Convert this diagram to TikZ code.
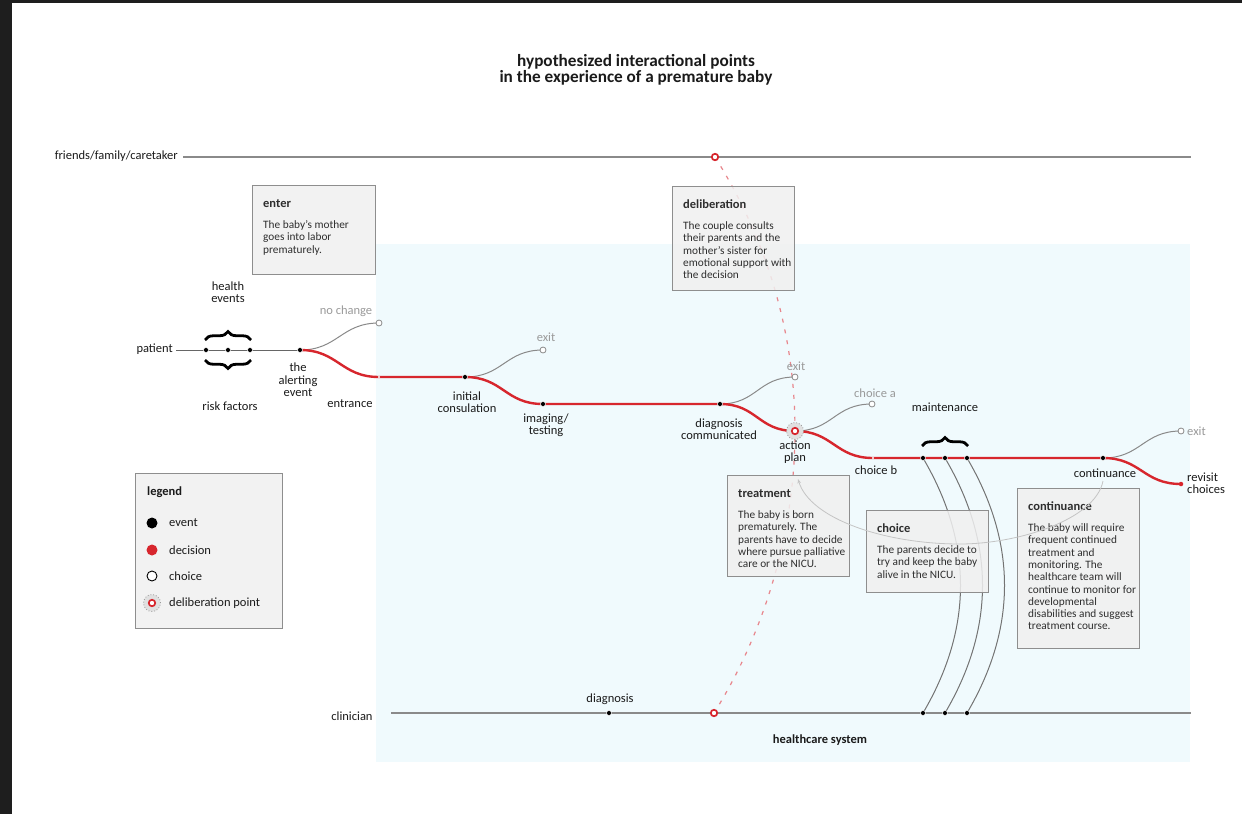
\documentclass[tikz,border=0pt]{standalone}
\usepackage{fontspec}
\setmainfont{Carlito}
\usetikzlibrary{decorations.pathreplacing,arrows.meta}
\definecolor{framec}{HTML}{1E1E1E}
\definecolor{sky}{HTML}{F0FAFD}
\definecolor{axisc}{HTML}{8A8A8A}
\definecolor{redc}{HTML}{D7262D}
\definecolor{pinkc}{HTML}{E8868C}
\definecolor{boxfill}{HTML}{F0F0F0}
\definecolor{boxline}{HTML}{8E8E8E}
\definecolor{txt}{HTML}{1A1A1A}
\definecolor{gtxt}{HTML}{9A9A9A}
\definecolor{faintc}{HTML}{C4C4C4}
\newcommand{\bxttl}[1]{{\fontsize{12.5}{12.4}\selectfont\bfseries\rule{0pt}{9pt}#1}}
\begin{document}
\begin{tikzpicture}[x=1pt,y=-1pt,
  lab/.style={font=\fontsize{12.5}{12.5}\selectfont, align=center, inner sep=0pt, text=txt},
  glab/.style={lab, text=gtxt},
  axisline/.style={draw=axisc, line width=1.8pt},
  ptline/.style={draw=black!60, line width=0.9pt},
  redline/.style={draw=redc, line width=2.4pt},
  branch/.style={draw=axisc, line width=1pt},
  arcline/.style={draw=black!55, line width=1pt},
  delib/.style={draw=pinkc, line width=1.2pt, dash pattern=on 4pt off 7pt},
  faintline/.style={draw=faintc, line width=0.8pt},
  evt/.style={circle, fill=black, draw=white, line width=0.5pt, inner sep=0pt, minimum size=5pt},
  chc/.style={circle, fill=white, draw=axisc, line width=0.8pt, inner sep=0pt, minimum size=6pt},
  gapdot/.style={circle, fill=white, inner sep=0pt, minimum size=2.4pt},
  ring/.style={circle, fill=white, draw=redc, line width=1.7pt, inner sep=0pt, minimum size=6.5pt},
  halo/.style={circle, fill=black!12, draw=black!40, dotted, line width=0.8pt, inner sep=0pt, minimum size=17pt},
  box/.style={rectangle, draw=boxline, fill=boxfill, fill opacity=0.85, line width=1.3pt, inner sep=0pt, anchor=north west},
  btext/.style={font=\fontsize{11.3}{12.3}\selectfont, align=left, inner sep=0pt, anchor=north west, text=black!82},
  bracedec/.style={decorate, decoration={brace, amplitude=8.5pt}, line width=2.8pt, draw=black}
]
\useasboundingbox (0,0) rectangle (1242,814);
\fill[white] (0,0) rectangle (1242,814);
\fill[framec] (0,0) rectangle (1242,3);
\fill[framec] (0,0) rectangle (12,814);
\fill[sky] (376,244) rectangle (1190,762);

% title
\node[lab, font=\fontsize{17.2}{16.5}\selectfont\bfseries] (title) at (636,70) {hypothesized interactional points\\in the experience of a premature baby};

% coordinates
\coordinate (ffS) at (183,157); \coordinate (ffE) at (1191,157);
\coordinate (clS) at (391,713); \coordinate (clE) at (1191,713);
\coordinate (pS) at (176,350);
\coordinate (h1) at (206,350); \coordinate (h2) at (228,350); \coordinate (h3) at (250,350);
\coordinate (ae) at (300,350);
\coordinate (nc) at (379,323);
\coordinate (ent) at (379,377);
\coordinate (ic) at (465,377);
\coordinate (ex1) at (543,350);
\coordinate (img) at (543,404);
\coordinate (dc) at (720,404);
\coordinate (ex2) at (795,377);
\coordinate (ap) at (795,431);
\coordinate (ca) at (872,404);
\coordinate (cb) at (873,458);
\coordinate (m1) at (923,458); \coordinate (m2) at (945,458); \coordinate (m3) at (967,458);
\coordinate (ct) at (1103,458);
\coordinate (ex3) at (1181,431);
\coordinate (rv) at (1181,484);
\coordinate (dtop) at (715,157);
\coordinate (dbot) at (714,713);
\coordinate (dg) at (609,713);
\coordinate (c1) at (923,713); \coordinate (c2) at (945,713); \coordinate (c3) at (967,713);
\coordinate (rcs) at (1103,481); \coordinate (rcm) at (960,544); \coordinate (rce) at (798,479);

% axes
\draw[axisline] (ffS) -- (ffE);
\draw[axisline] (clS) -- (clE);
\draw[ptline] (pS) -- (ae);

% deliberation dashed curve
\draw[delib] (dtop) .. controls +(52,83) and +(0,-98) .. (ap) .. controls +(0,98) and +(52,-83) .. (dbot);

% maintenance arcs
\draw[arcline] (m1) .. controls +(50,85) and +(50,-85) .. (c1);
\draw[arcline] (m2) .. controls +(50,85) and +(50,-85) .. (c2);
\draw[arcline] (m3) .. controls +(50,85) and +(50,-85) .. (c3);

% grey branches
\draw[branch] (ae) .. controls +(38,0) and +(-38,0) .. (nc);
\draw[branch] (ic) .. controls +(38,0) and +(-38,0) .. (ex1);
\draw[branch] (dc) .. controls +(37,0) and +(-37,0) .. (ex2);
\draw[branch] (ap) .. controls +(38,0) and +(-38,0) .. (ca);
\draw[branch] (ct) .. controls +(38,0) and +(-38,0) .. (ex3);

% red decision path
\draw[redline] (ae) .. controls +(38,0) and +(-38,0) .. (ent) -- (ic)
  .. controls +(38,0) and +(-38,0) .. (img) -- (dc)
  .. controls +(37,0) and +(-37,0) .. (ap)
  .. controls +(38,0) and +(-38,0) .. (cb) -- (ct)
  .. controls +(38,0) and +(-38,0) .. (rv);

% boxes
\node[box, minimum width=123, minimum height=89] (bEnter) at (252,185) {};
\node[btext] (tEnter) at (263,198) {\bxttl{enter}\\[9pt]The baby’s mother\\goes into labor\\prematurely.};
\node[box, minimum width=122, minimum height=104] (bDelib) at (672,186) {};
\node[btext] (tDelib) at (683,199) {\bxttl{deliberation}\\[9pt]The couple consults\\their parents and the\\mother’s sister for\\emotional support with\\the decision};
\node[box, minimum width=122, minimum height=101] (bTreat) at (727,475) {};
\node[btext] (tTreat) at (738,488) {\bxttl{treatment}\\[9pt]The baby is born\\prematurely. The\\parents have to decide\\where pursue palliative\\care or the NICU.};
\node[box, minimum width=122, minimum height=82] (bChoice) at (866,510) {};
\node[btext] (tChoice) at (877,523) {\bxttl{choice}\\[9pt]The parents decide to\\try and keep the baby\\alive in the NICU.};
\node[box, minimum width=122, minimum height=160] (bCont) at (1017,488) {};
\node[btext] (tCont) at (1028,501) {\bxttl{continuance}\\[9pt]The baby will require\\frequent continued\\treatment and\\monitoring. The\\healthcare team will\\continue to monitor for\\developmental\\disabilities and suggest\\treatment course.};

% faint return arrow
\draw[faintline, -{Stealth[length=4.5pt,width=3.5pt]}] (rcs) .. controls +(-8,40) and +(55,0) .. (rcm) .. controls +(-75,0) and +(12,40) .. (rce);

% braces
\draw[bracedec] (205,340) -- (251,340);
\draw[bracedec] (251,360) -- (205,360);
\draw[bracedec] (922,446) -- (968,446);

% points
\node[evt] (dh1) at (h1) {};
\node[evt] (dh2) at (h2) {};
\node[evt] (dh3) at (h3) {};
\node[evt] (dae) at (ae) {};
\node[chc] (dnc) at (nc) {};
\node[gapdot] (dent) at (ent) {};
\node[evt] (dic) at (ic) {};
\node[chc] (dex1) at (ex1) {};
\node[evt] (dimg) at (img) {};
\node[evt] (ddc) at (dc) {};
\node[chc] (dex2) at (ex2) {};
\node[halo] (hap) at (ap) {};
\node[ring] (rap) at (ap) {};
\node[chc] (dca) at (ca) {};
\node[gapdot] (dcb) at (cb) {};
\node[evt] (dm1) at (m1) {};
\node[evt] (dm2) at (m2) {};
\node[evt] (dm3) at (m3) {};
\node[evt] (dct) at (ct) {};
\node[chc] (dex3) at (ex3) {};
\node[circle, fill=redc, inner sep=0pt, minimum size=4.5pt] (drv) at (rv) {};
\node[ring] (rtop) at (dtop) {};
\node[ring] (rbot) at (dbot) {};
\node[evt] (ddg) at (dg) {};
\node[evt] (dc1) at (c1) {};
\node[evt] (dc2) at (c2) {};
\node[evt] (dc3) at (c3) {};

% labels
\node[lab, anchor=east] (lFF) at (178,156) {friends/family/caretaker};
\node[lab, anchor=east] (lPat) at (173,349) {patient};
\node[lab] (lHE) at (228,292) {health\\events};
\node[lab] (lRF) at (230,406) {risk factors};
\node[lab] (lAE) at (298,380) {the\\alerting\\event};
\node[glab] (lNC) at (346,311) {no change};
\node[lab] (lEnt) at (350,404) {entrance};
\node[glab] (lEx1) at (546,337) {exit};
\node[lab] (lIC) at (467,402) {initial\\consulation};
\node[lab] (lImg) at (546,425) {imaging/\\testing};
\node[lab] (lDC) at (719,429) {diagnosis\\communicated};
\node[glab] (lEx2) at (796,366) {exit};
\node[lab] (lAP) at (795,452) {action\\plan};
\node[glab] (lCA) at (875,393) {choice a};
\node[lab] (lCB) at (876,470) {choice b};
\node[lab] (lMt) at (945,407) {maintenance};
\node[lab] (lCt) at (1105,473) {continuance};
\node[glab, anchor=west] (lEx3) at (1187,431) {exit};
\node[lab, anchor=west, align=left] (lRv) at (1187,483) {revisit\\choices};
\node[lab] (lCl) at (352,716) {clinician};
\node[lab] (lDg) at (610,699) {diagnosis};
\node[lab, font=\fontsize{12.5}{12.5}\selectfont\bfseries] (lHS) at (820,740) {healthcare system};

% legend
\node[box, minimum width=147, minimum height=155] (bLeg) at (135,473) {};
\node[lab, anchor=west, font=\fontsize{12.5}{12.5}\selectfont\bfseries] (lLeg) at (147,492) {legend};
\node[circle, fill=black, inner sep=0pt, minimum size=11pt] (lgE) at (152,523) {};
\node[lab, anchor=west] (lgEt) at (169,523) {event};
\node[circle, fill=redc, inner sep=0pt, minimum size=11pt] (lgD) at (152,550) {};
\node[lab, anchor=west] (lgDt) at (169,550) {decision};
\node[circle, draw=black, fill=white, line width=0.9pt, inner sep=0pt, minimum size=10pt] (lgC) at (152,576) {};
\node[lab, anchor=west] (lgCt) at (169,576) {choice};
\node[halo] (lgH) at (152,603) {};
\node[ring] (lgR) at (152,603) {};
\node[lab, anchor=west] (lgRt) at (169,603) {deliberation point};
\end{tikzpicture}
\end{document}
